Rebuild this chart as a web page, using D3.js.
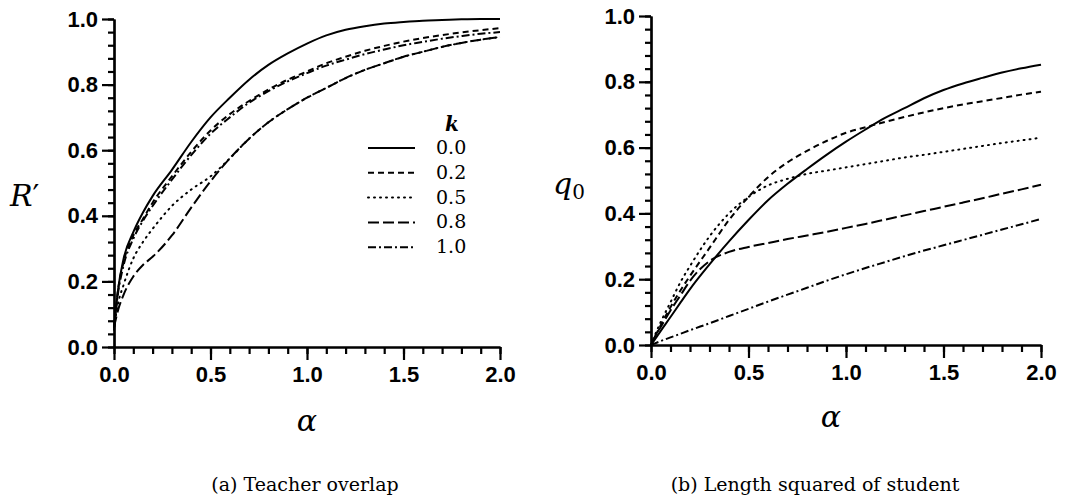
<!DOCTYPE html>
<html>
<head>
<meta charset="utf-8">
<script src="https://cdn.jsdelivr.net/npm/d3@7"></script>
<style>
    body { margin: 0; background: #fff; }
    .tick text { font-family: "Liberation Sans", Arial, sans-serif; font-weight: bold; font-size: 22px; fill: #000; }
    .domain, .tick line { stroke: #000; stroke-width: 2.2px; }
    .curve { fill: none; stroke: #000; stroke-width: 2px; }
    .mathLabel { font-family: "DejaVu Serif", serif; font-style: italic; fill: #000; }
    .caption { font-family: "DejaVu Serif", serif; font-size: 19px; fill: #000; }
    .legendText { font-family: "DejaVu Serif", serif; font-size: 19px; fill: #000; }
</style>
</head>
<body>
<div id="chart"></div>
<script>

var alphaValues = [0, 0.02, 0.05, 0.1, 0.15, 0.2, 0.3, 0.4, 0.5, 0.6, 0.7, 0.8, 0.9, 1.0,
    1.1, 1.2, 1.3, 1.4, 1.5, 1.6, 1.7, 1.8, 1.9, 2.0];

var kLabels = ["0.0", "0.2", "0.5", "0.8", "1.0"];

// (a) teacher overlap R'
var overlapK00 = [0.05, 0.17, 0.27, 0.35, 0.41, 0.46, 0.54, 0.625, 0.70, 0.76, 0.815, 0.86, 0.895, 0.925,
    0.95, 0.967, 0.978, 0.986, 0.991, 0.995, 0.997, 0.999, 1.0, 1.0];
var overlapK02 = [0.06, 0.17, 0.26, 0.34, 0.39, 0.44, 0.52, 0.595, 0.66, 0.71, 0.75, 0.785, 0.815, 0.84,
    0.865, 0.885, 0.903, 0.918, 0.931, 0.942, 0.951, 0.959, 0.966, 0.972];
var overlapK05 = [0.06, 0.13, 0.19, 0.27, 0.32, 0.36, 0.43, 0.48, 0.52, 0.575, 0.635, 0.685, 0.725, 0.76,
    0.79, 0.82, 0.845, 0.865, 0.885, 0.90, 0.915, 0.927, 0.937, 0.945];
var overlapK08 = [0.06, 0.11, 0.16, 0.215, 0.25, 0.275, 0.34, 0.425, 0.505, 0.575, 0.635, 0.685, 0.725, 0.76,
    0.79, 0.82, 0.845, 0.865, 0.885, 0.90, 0.915, 0.927, 0.937, 0.945];
var overlapK10 = [0.06, 0.16, 0.25, 0.33, 0.385, 0.43, 0.51, 0.585, 0.65, 0.70, 0.745, 0.78, 0.81, 0.835,
    0.858, 0.876, 0.893, 0.907, 0.92, 0.93, 0.94, 0.948, 0.955, 0.96];

// (b) length squared of student q0
var lengthK00 = [0, 0.017, 0.043, 0.085, 0.128, 0.17, 0.245, 0.315, 0.38, 0.44, 0.49, 0.535, 0.578, 0.618,
    0.655, 0.69, 0.72, 0.75, 0.775, 0.795, 0.812, 0.828, 0.841, 0.852];
var lengthK02 = [0, 0.025, 0.06, 0.115, 0.165, 0.21, 0.295, 0.38, 0.45, 0.51, 0.555, 0.59, 0.62, 0.645,
    0.662, 0.678, 0.693, 0.707, 0.72, 0.731, 0.741, 0.751, 0.761, 0.77];
var lengthK05 = [0, 0.03, 0.07, 0.13, 0.19, 0.24, 0.33, 0.40, 0.45, 0.485, 0.505, 0.52, 0.53, 0.54,
    0.55, 0.56, 0.57, 0.578, 0.587, 0.596, 0.605, 0.614, 0.622, 0.63];
var lengthK08 = [0, 0.025, 0.055, 0.105, 0.15, 0.195, 0.255, 0.283, 0.298, 0.31, 0.322, 0.333, 0.344, 0.356,
    0.368, 0.381, 0.394, 0.407, 0.42, 0.433, 0.446, 0.46, 0.473, 0.487];
var lengthK10 = [0, 0.005, 0.012, 0.023, 0.034, 0.045, 0.066, 0.088, 0.11, 0.132, 0.153, 0.174, 0.195, 0.215,
    0.234, 0.252, 0.27, 0.287, 0.303, 0.319, 0.335, 0.351, 0.367, 0.383];

var xMajorTicks = [0, 0.5, 1.0, 1.5, 2.0];
var yMajorTicks = [0, 0.2, 0.4, 0.6, 0.8, 1.0];

// one dash style per k, same order as kLabels
var dashStyles = ["none", "6,4", "1,5", "11,4", "8,3,2,3"];

var svg = d3.select("#chart").append("svg")
    .attr("width", 1080)
    .attr("height", 503);

/**
 * Draws one panel: axes, ticks, the five curves and the axis labels
 */
function drawPanel(opts) {
    var g = svg.append("g");

    var x = d3.scaleLinear().domain([0, 2]).range([opts.left, opts.right]);
    var y = d3.scaleLinear().domain([0, 1]).range([opts.bottom, opts.top]);

    //minor ticks first, majors with labels on top
    g.append("g")
        .attr("transform", "translate(0," + opts.bottom + ")")
        .call(d3.axisBottom(x).tickValues(d3.range(0, 2.001, 0.1)).tickSize(7).tickSizeOuter(0).tickFormat(""));
    g.append("g")
        .attr("transform", "translate(0," + opts.bottom + ")")
        .call(d3.axisBottom(x).tickValues(xMajorTicks).tickSize(13).tickSizeOuter(0).tickPadding(6)
            .tickFormat(d3.format(".1f")));

    g.append("g")
        .attr("transform", "translate(" + opts.left + ",0)")
        .call(d3.axisLeft(y).tickValues(d3.range(0, 1.001, 0.04)).tickSize(6).tickSizeOuter(0).tickFormat(""));
    g.append("g")
        .attr("transform", "translate(" + opts.left + ",0)")
        .call(d3.axisLeft(y).tickValues(yMajorTicks).tickSize(12).tickSizeOuter(0).tickPadding(4)
            .tickFormat(d3.format(".1f")));

    var line = d3.line()
        .x(function (d) { return x(d[0]); })
        .y(function (d) { return y(d[1]); })
        .curve(d3.curveMonotoneX);

    opts.series.forEach(function (values, i) {
        var points = alphaValues.map(function (a, j) { return [a, values[j]]; });
        g.append("path")
            .attr("class", "curve")
            .attr("d", line(points))
            .attr("stroke-dasharray", dashStyles[i])
            .attr("stroke-linecap", i == 2 ? "round" : "butt");
    });

    // alpha under the x axis
    g.append("text")
        .attr("class", "mathLabel")
        .attr("x", opts.alphaX)
        .attr("y", opts.alphaY)
        .attr("text-anchor", "middle")
        .style("font-size", "30px")
        .text("α");

    g.append("text")
        .attr("class", "caption")
        .attr("x", opts.captionX)
        .attr("y", 491)
        .attr("text-anchor", "middle")
        .text(opts.caption);

    return {g: g, x: x, y: y};
}

var left = drawPanel({
    left: 114, right: 500, top: 19, bottom: 347,
    series: [overlapK00, overlapK02, overlapK05, overlapK08, overlapK10],
    alphaX: 307, alphaY: 431,
    captionX: 305, caption: "(a) Teacher overlap"
});

var right = drawPanel({
    left: 651, right: 1041, top: 16, bottom: 345,
    series: [lengthK00, lengthK02, lengthK05, lengthK08, lengthK10],
    alphaX: 831, alphaY: 427,
    captionX: 815, caption: "(b) Length squared of student"
});

// y labels
var rLabel = left.g.append("text")
    .attr("class", "mathLabel")
    .attr("x", 10)
    .attr("y", 206)
    .style("font-size", "30px");
rLabel.append("tspan").text("R");
rLabel.append("tspan").style("font-style", "normal").text("′");

var qLabel = right.g.append("text")
    .attr("class", "mathLabel")
    .attr("x", 553)
    .attr("y", 194)
    .style("font-size", "30px");
qLabel.append("tspan").text("q");
qLabel.append("tspan").style("font-style", "normal").style("font-size", "20px").attr("dy", 5).text("0");

// legend inside panel (a)
var legend = left.g.append("g").attr("transform", "translate(368,148)");
legend.append("text")
    .attr("class", "mathLabel")
    .attr("x", 84)
    .attr("y", -17)
    .attr("text-anchor", "middle")
    .style("font-size", "20px")
    .style("font-weight", "bold")
    .text("k");

kLabels.forEach(function (label, i) {
    var row = legend.append("g").attr("transform", "translate(0," + (i * 24.8) + ")");
    row.append("line")
        .attr("class", "curve")
        .attr("x1", 0).attr("x2", 47)
        .attr("y1", 0).attr("y2", 0)
        .attr("stroke-dasharray", dashStyles[i])
        .attr("stroke-linecap", i == 2 ? "round" : "butt");
    row.append("text")
        .attr("class", "legendText")
        .attr("x", 68)
        .attr("y", 6)
        .text(label);
});

</script>
</body>
</html>
